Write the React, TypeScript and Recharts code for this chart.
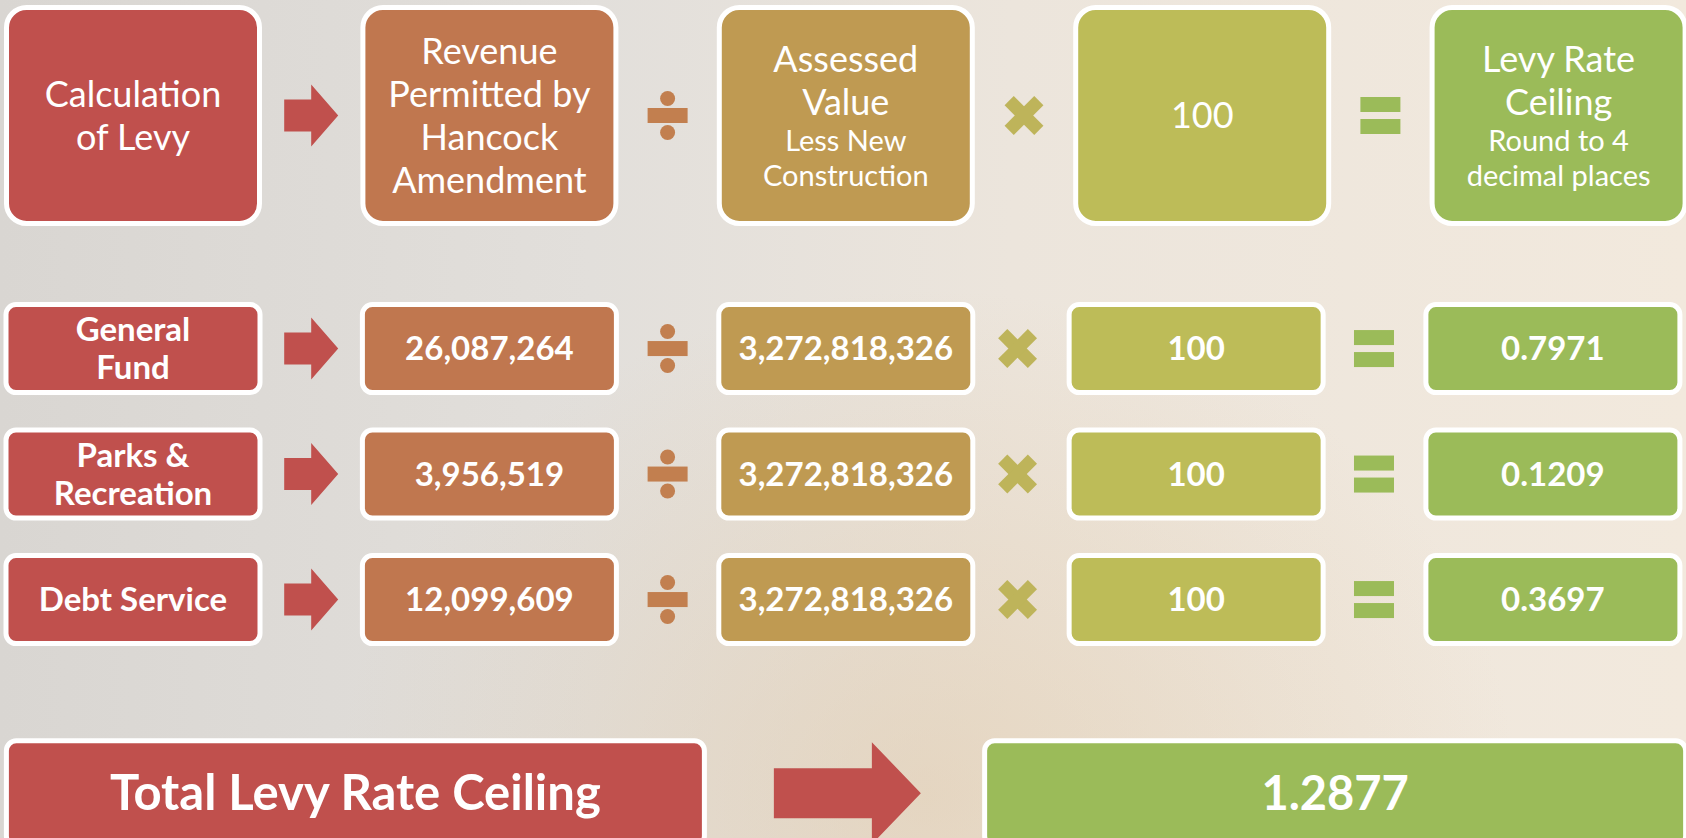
import React from "react";
import { ScatterChart, Scatter, XAxis, YAxis } from "recharts";

const W = 1686;
const H = 838;

// ---- data ----
const headerTitles = [
  ["Calculation", "of Levy"],
  ["Revenue", "Permitted by", "Hancock", "Amendment"],
  ["Assessed", "Value"],
  ["100"],
  ["Levy Rate", "Ceiling"],
];
const headerNotes = [[], [], ["Less New", "Construction"], [], ["Round to 4", "decimal places"]];
const funds = [["General", "Fund"], ["Parks &", "Recreation"], ["Debt Service"]];
const revenuePermitted = [26087264, 3956519, 12099609];
const assessedValue = [3272818326, 3272818326, 3272818326];
const multiplier = [100, 100, 100];
const levyRate = [0.7971, 0.1209, 0.3697];
const operators = ["arrow", "divide", "times", "equals"];
const totalLabel = "Total Levy Rate Ceiling";
const totalLevyRate = 1.2877;

// ---- layout (axis units) ----
const COL0 = 133;
const COL_STEP = 356.4;
const ROW0 = 115.5;
const ROW_STEP = 125.5;
const xDomain = [-COL0 / COL_STEP, (W - COL0) / COL_STEP];
const yDomain = [-ROW0 / ROW_STEP, (H - ROW0) / ROW_STEP];
const rowSlots = [1.857, 2.857, 3.857];
const totalSlot = 5.4;
// the lower rows sit a few pixels left of the header from the 3rd column on
const rowBoxNudge = [0, 0, 0, -0.017, -0.016];
const rowOpNudge = [0, 0, -0.018, -0.018];

const COLORS = ["#C0504D", "#C0774F", "#BF9A52", "#BDBC58", "#9BBB59"];
const FONT = "Lato, 'Open Sans', sans-serif";

const fmt = (v: number) => v.toLocaleString("en-US");

type Box = { x: number; y: number; kind: string; col: number; lines: string[]; notes?: string[] };
type Op = { x: number; y: number; op: string };

const boxes: Box[] = [];
headerTitles.forEach((lines, i) =>
  boxes.push({ x: i, y: 0, kind: "header", col: i, lines, notes: headerNotes[i] })
);
funds.forEach((f, r) => {
  const cells = [
    f,
    [fmt(revenuePermitted[r])],
    [fmt(assessedValue[r])],
    [String(multiplier[r])],
    [levyRate[r].toFixed(4)],
  ];
  cells.forEach((lines, i) =>
    boxes.push({ x: i + rowBoxNudge[i], y: rowSlots[r], kind: "row", col: i, lines })
  );
});
boxes.push({ x: 0.624, y: totalSlot, kind: "totalLeft", col: 0, lines: [totalLabel] });
boxes.push({ x: 3.373, y: totalSlot, kind: "totalRight", col: 4, lines: [totalLevyRate.toFixed(4)] });

const ops: Op[] = [];
operators.forEach((op, i) => ops.push({ x: i + 0.5, y: 0, op }));
rowSlots.forEach((slot) =>
  operators.forEach((op, i) => ops.push({ x: i + 0.5 + rowOpNudge[i], y: slot, op }))
);
ops.push({ x: 2.003, y: totalSlot, op: "bigArrow" });

const SIZES: Record<string, { w: number; h: number; r: number }> = {
  header: { w: 248, h: 211, r: 20 },
  row: { w: 249, h: 83, r: 10 },
  totalLeft: { w: 693, h: 100, r: 10 },
  totalRight: { w: 696, h: 100, r: 10 },
};

function BoxShape(props: any) {
  const { cx, cy, payload } = props;
  const p = payload as Box;
  const s = SIZES[p.kind];
  const items: { t: string; size: number; lh: number; bold: boolean }[] = [];
  if (p.kind === "header") {
    p.lines.forEach((t) => items.push({ t, size: 36, lh: 43, bold: false }));
    (p.notes || []).forEach((t) => items.push({ t, size: 29, lh: 35, bold: false }));
  } else if (p.kind === "row") {
    p.lines.forEach((t) => items.push({ t, size: 33, lh: 38, bold: true }));
  } else if (p.kind === "totalLeft") {
    p.lines.forEach((t) => items.push({ t, size: 49, lh: 50, bold: true }));
  } else {
    p.lines.forEach((t) => items.push({ t, size: 47, lh: 50, bold: true }));
  }
  const total = items.reduce((a, b) => a + b.lh, 0);
  let cur = cy - total / 2;
  return (
    <g>
      <rect
        x={cx - s.w / 2 - 2.5}
        y={cy - s.h / 2 - 2.5}
        width={s.w + 5}
        height={s.h + 5}
        rx={s.r}
        fill={COLORS[p.col]}
        stroke="#ffffff"
        strokeWidth={5}
      />
      {items.map((it, i) => {
        const mid = cur + it.lh / 2;
        cur += it.lh;
        return (
          <text
            key={i}
            x={cx}
            y={mid + it.size * 0.35}
            textAnchor="middle"
            fill="#ffffff"
            fontFamily={FONT}
            fontSize={it.size}
            fontWeight={it.bold ? 700 : 400}
          >
            {it.t}
          </text>
        );
      })}
    </g>
  );
}

function OpShape(props: any) {
  const { cx, cy, payload } = props;
  const op = (payload as Op).op;
  if (op === "arrow") {
    const pts = [
      [cx - 27, cy - 16],
      [cx, cy - 16],
      [cx, cy - 31],
      [cx + 27, cy],
      [cx, cy + 31],
      [cx, cy + 16],
      [cx - 27, cy + 16],
    ];
    return <polygon points={pts.map((q) => q.join(",")).join(" ")} fill="#C0504D" />;
  }
  if (op === "bigArrow") {
    const pts = [
      [cx - 73, cy - 25],
      [cx + 25, cy - 25],
      [cx + 25, cy - 51],
      [cx + 74, cy],
      [cx + 25, cy + 51],
      [cx + 25, cy + 25],
      [cx - 73, cy + 25],
    ];
    return <polygon points={pts.map((q) => q.join(",")).join(" ")} fill="#C0504D" />;
  }
  if (op === "divide") {
    return (
      <g fill="#C27F4F">
        <rect x={cx - 20} y={cy - 7.5} width={40} height={15} />
        <circle cx={cx} cy={cy - 17} r={7.5} />
        <circle cx={cx} cy={cy + 17} r={7.5} />
      </g>
    );
  }
  if (op === "times") {
    return (
      <g fill="#BEB45A">
        <rect x={cx - 21} y={cy - 6.5} width={42} height={13} transform={`rotate(45 ${cx} ${cy})`} />
        <rect x={cx - 21} y={cy - 6.5} width={42} height={13} transform={`rotate(-45 ${cx} ${cy})`} />
      </g>
    );
  }
  return (
    <g fill="#9BBB59">
      <rect x={cx - 20} y={cy - 18.5} width={40} height={15} />
      <rect x={cx - 20} y={cy + 3.5} width={40} height={15} />
    </g>
  );
}

export default function App() {
  return (
    <div
      style={{
        position: "absolute",
        left: 0,
        top: 0,
        width: W,
        height: H,
        overflow: "hidden",
        background:
          "radial-gradient(ellipse at 55% 95%, rgba(222,196,160,0.45) 0%, rgba(222,196,160,0) 45%), linear-gradient(90deg, #d9d6d2 0%, #e2dfdb 35%, #ece5dc 60%, #f2e9dd 100%)",
      }}
    >
      <ScatterChart width={W} height={H} margin={{ top: 0, right: 0, bottom: 0, left: 0 }}>
        <XAxis type="number" dataKey="x" domain={xDomain} allowDataOverflow hide />
        <YAxis type="number" dataKey="y" domain={yDomain} allowDataOverflow reversed hide />
        <Scatter data={boxes} shape={BoxShape} isAnimationActive={false} />
        <Scatter data={ops} shape={OpShape} isAnimationActive={false} />
      </ScatterChart>
    </div>
  );
}
